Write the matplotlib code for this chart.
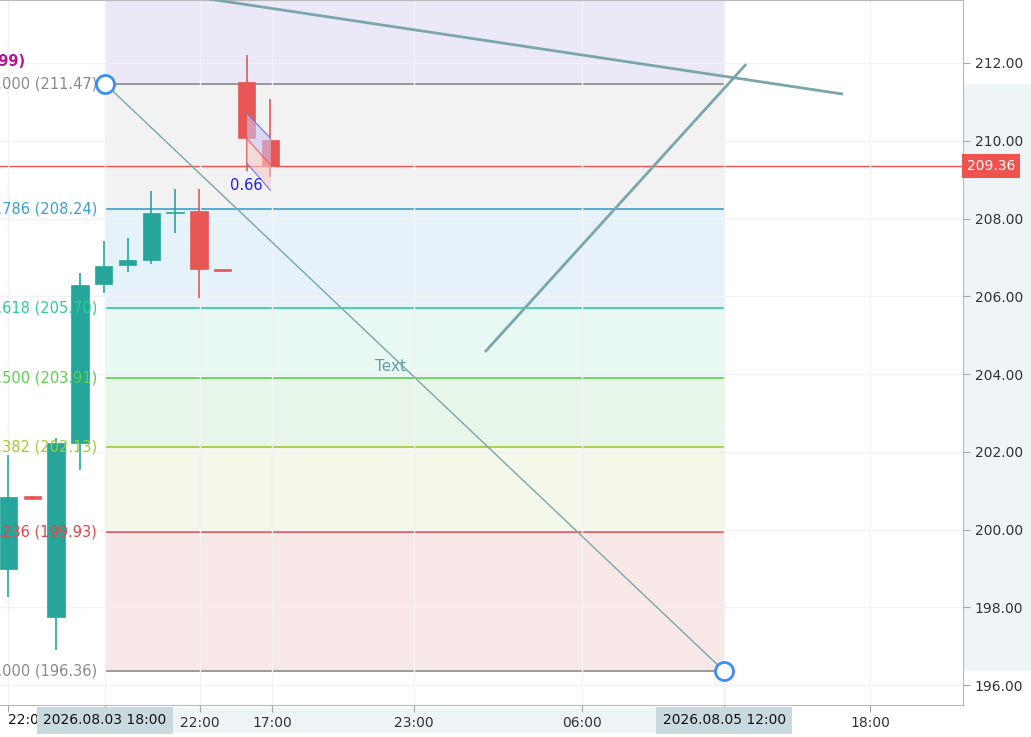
import matplotlib
matplotlib.use("Agg")
import matplotlib.pyplot as plt
from matplotlib.patches import Rectangle

# --- Candles (bar index, OHLC) ---
opens = [198.98, 200.86, 197.75, 202.23, 206.31, 206.80, 206.93, 208.13, 208.20, 206.68, 211.51, 210.02]
highs = [201.92, 200.86, 202.35, 206.60, 207.42, 207.50, 208.71, 208.76, 208.76, 206.68, 212.21, 211.07]
lows = [198.26, 200.80, 196.90, 201.53, 206.08, 206.62, 206.83, 207.63, 205.95, 206.66, 209.22, 209.07]
closes = [200.84, 200.80, 202.23, 206.29, 206.78, 206.93, 208.14, 208.17, 206.70, 206.66, 210.07, 209.36]
last_price = 209.36

# --- Fibonacci retracement ---
fib_start = (4.05, 211.47)
fib_end = (30.07, 196.36)
fib_ratios = ["1.000", "0.786", "0.618", "0.500", "0.382", "0.236", "0.000"]
fib_prices = [211.47, 208.24, 205.70, 203.91, 202.13, 199.93, 196.36]
fib_colors = ["#8a8a8a", "#3c9fd0", "#2ecc9a", "#5ccf4f", "#9fcb2f", "#e04848", "#8a8a8a"]
fib_fills = ["#f2f2f2", "#e6f2f9", "#e8f8f3", "#e8f5e9", "#f3f8e9", "#f9e8e8"]
fib_top_fill = "#ebe9f7"

# --- Trend lines and drawings ---
line1_x = [5.0, 35.06]
line1_y = [213.96, 211.2]
line2_x = [20.02, 30.99]
line2_y = [204.57, 211.97]
chan_x = [10.0, 11.0]
chan_top = [210.71, 210.07]
chan_mid = [210.07, 209.38]
chan_bot = [209.43, 208.73]

# --- Axes ticks ---
x_ticks = [0, 8.05, 11.07, 17.04, 24.1, 36.2]
x_labels = ["", "22:00", "17:00", "23:00", "06:00", "18:00"]
y_ticks = [196, 198, 200, 202, 204, 206, 208, 210, 212]

W, H = 1031, 737
fig = plt.figure(figsize=(W / 100, H / 100), dpi=100)
ax = fig.add_axes([0, 32 / H, 963 / W, 705 / H])
ax.set_xlim(-0.357, 40.1)
ax.set_ylim(195.49, 213.62)

ax.set_yticks(y_ticks)
ax.set_yticklabels([f"{v:.2f}" for v in y_ticks])
ax.yaxis.tick_right()
ax.set_xticks(x_ticks + [fib_start[0], fib_end[0]])
ax.set_xticklabels(x_labels + ["", ""])
ax.tick_params(axis="both", colors="#a8a8a8", labelcolor="#333333", labelsize=10, length=5)
ax.tick_params(axis="x", pad=3)
ax.grid(True, color="#f2f2f2", lw=1, zorder=0)
ax.spines["left"].set_visible(False)
for s in ["right", "bottom", "top"]:
    ax.spines[s].set_color("#b8b8b8")

# first time label, partly hidden behind the date box
ax.text(-0.02, -0.0217, "22:00", transform=ax.get_xaxis_transform(), ha="left", va="center",
        fontsize=10, color="#111111", clip_on=False, zorder=7)

# fib bands
x0, x1 = fib_start[0], fib_end[0]
ax.add_patch(Rectangle((x0, fib_prices[0]), x1 - x0, 5, color=fib_top_fill, lw=0, zorder=0.5))
for i in range(len(fib_fills)):
    ax.add_patch(Rectangle((x0, fib_prices[i + 1]), x1 - x0, fib_prices[i] - fib_prices[i + 1],
                           color=fib_fills[i], lw=0, zorder=0.5))
for r, p, c in zip(fib_ratios, fib_prices, fib_colors):
    ax.hlines(p, x0, x1, color=c, lw=1.2, zorder=1)
    ax.text(3.72, p, f"{r} ({p:.2f})", color=c, fontsize=10.5, ha="right", va="center",
            clip_on=True, zorder=6)
ax.text(0.69, 212.03, "High (211.99)", color="#b0168f", fontsize=10.5, fontweight="bold",
        ha="right", va="center", clip_on=True, zorder=6)

ax.axhline(last_price, color="#ef5350", lw=1, zorder=1.2)

# candles
for i in range(len(opens)):
    o, h, l, c = opens[i], highs[i], lows[i], closes[i]
    col = "#26a69a" if c >= o else "#e85656"
    ax.vlines(i, l, h, color=col, lw=1.2, zorder=2)
    body = max(abs(c - o), 0.05)
    ax.bar(i, body, bottom=min(o, c), width=0.73, color=col, edgecolor=col, lw=0.5, zorder=3)

# channel annotation
ax.fill_between(chan_x, chan_mid, chan_top, color="#c9c6f2", alpha=0.6, lw=0, zorder=3.5)
ax.fill_between(chan_x, chan_bot, chan_mid, color="#f6c9c9", alpha=0.6, lw=0, zorder=3.5)
ax.plot(chan_x, chan_top, color="#7373ee", lw=0.8, zorder=3.6)
ax.plot(chan_x, chan_mid, color="#f06060", lw=0.8, zorder=3.6)
ax.plot(chan_x, chan_bot, color="#7373ee", lw=0.8, zorder=3.6)
ax.text(10.0, 208.84, "0.66", color="#1e1ef0", fontsize=10.5, ha="center", va="center", zorder=6)

# trend lines
ax.plot(line1_x, line1_y, color="#7aa6ab", lw=2, solid_capstyle="butt", zorder=4)
ax.plot(line2_x, line2_y, color="#7aa6ab", lw=2, solid_capstyle="butt", zorder=4)
ax.plot([fib_start[0], fib_end[0]], [fib_start[1], fib_end[1]], color="#7aa6ab", lw=1, zorder=4)
ax.plot([fib_end[0], fib_end[0]], [195.49, fib_end[1]], color="#c0d4d7", lw=1, zorder=1)
ax.text(16.03, 204.2, "Text", color="#6a9aa0", fontsize=11, ha="center", va="center", zorder=6)
ax.plot([fib_start[0], fib_end[0]], [fib_start[1], fib_end[1]], "o", ms=13, mfc="white",
        mec="#3d8ef5", mew=2, zorder=7, clip_on=False)

# axis highlight areas
ax.add_patch(Rectangle((1.0, fib_prices[-1]), 68 / 963, fib_prices[0] - fib_prices[-1],
                       transform=ax.get_yaxis_transform(), color="#eff4f7", lw=0, zorder=0, clip_on=False))
ax.add_patch(Rectangle((x0, -0.0397), x1 - x0, 0.0357, transform=ax.get_xaxis_transform(),
                       color="#eef3f6", lw=0, zorder=0, clip_on=False))
for x, lab in [(x0, "2026.08.03 18:00"), (x1, "2026.08.05 12:00")]:
    ax.text(x, -0.0217, lab, transform=ax.get_xaxis_transform(), ha="center", va="center",
            fontsize=10, color="#111111", clip_on=False, zorder=8,
            bbox=dict(boxstyle="square,pad=0.45", fc="#c8dadd", ec="none"))
ax.text(1.0 + 4 / 963, last_price, f"{last_price:.2f}", transform=ax.get_yaxis_transform(),
        ha="left", va="center", fontsize=10, color="white", clip_on=False, zorder=8,
        bbox=dict(boxstyle="square,pad=0.35", fc="#ef5350", ec="none"))

fig.savefig("out.png", dpi=100)
